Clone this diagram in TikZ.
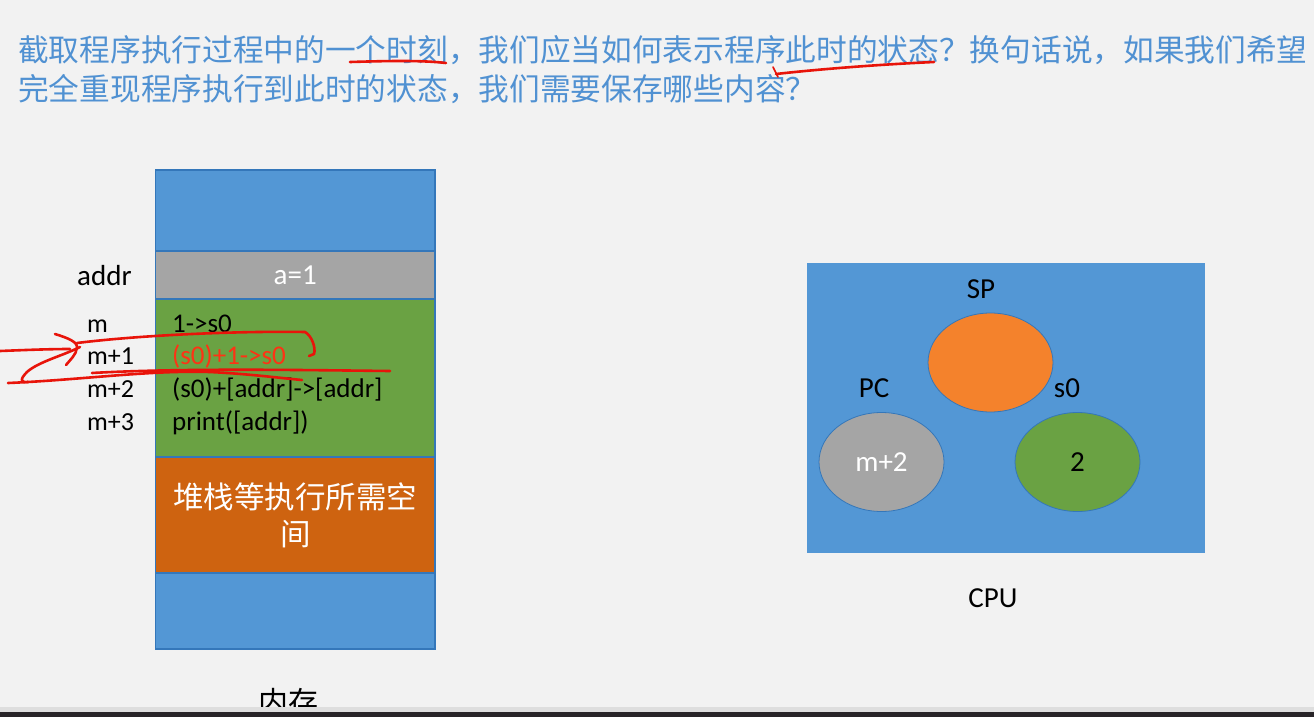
\documentclass[tikz,border=0pt]{standalone}
\usepackage{fontspec}
\setmainfont{Carlito}
\newfontfamily\cjk{Noto Sans CJK SC}
\usetikzlibrary{shapes.geometric}
\definecolor{bg}{RGB}{242,242,242}
\definecolor{memblue}{RGB}{83,151,213}
\definecolor{edgeblue}{RGB}{52,119,186}
\definecolor{gry}{RGB}{165,165,165}
\definecolor{grn}{RGB}{106,162,67}
\definecolor{dorange}{RGB}{206,99,16}
\definecolor{orng}{RGB}{244,130,44}
\definecolor{titleblue}{RGB}{80,145,210}
\definecolor{ink}{RGB}{232,20,10}
\definecolor{codered}{RGB}{255,50,20}
\definecolor{bandlight}{RGB}{222,222,222}
\definecolor{banddark}{RGB}{40,36,40}
\begin{document}
\begin{tikzpicture}[x=1pt,y=-1pt,
  seg/.style={draw=edgeblue, line width=1.2pt, minimum width=279.5pt, inner sep=0pt, outer sep=0pt},
  reg/.style={ellipse, draw=edgeblue, line width=0.8pt, minimum width=125pt, minimum height=99pt, inner sep=0pt},
  lbl/.style={inner sep=0pt, anchor=base, font=\fontsize{29}{34}\selectfont},
  addrlbl/.style={inner sep=0pt, anchor=base west, font=\fontsize{26}{30}\selectfont},
  codeln/.style={inner sep=0pt, anchor=base west, font=\fontsize{27}{31}\selectfont},
  title/.style={inner sep=0pt, anchor=base west, text=titleblue, font=\cjk\fontsize{30.7}{36}\selectfont},
  ann/.style={draw=ink, line width=2.6pt, line cap=round, line join=round}]

\fill[bg] (0,0) rectangle (1314,717);
\useasboundingbox (0,0) rectangle (1314,717);

% title
\node[title] (t1) at (18,62) {截取程序执行过程中的一个时刻，我们应当如何表示程序此时的状态？换句话说，如果我们希望};
\node[title] (t2) at (18,100) {完全重现程序执行到此时的状态，我们需要保存哪些内容？};

% memory
\node[seg, fill=memblue, minimum height=81pt] (mtop) at (295.25,210.5) {};
\node[seg, fill=gry, minimum height=48pt, text=white, font=\fontsize{29}{34}\selectfont] (mdata) at (295.25,275) {a=1};
\node[seg, fill=grn, minimum height=158pt] (mcode) at (295.25,378) {};
\node[seg, fill=dorange, minimum height=116pt, text=white, align=center, text width=262pt,
      font=\cjk\fontsize{30.5}{37}\selectfont] (mstack) at (295.25,515) {堆栈等执行所需空\\间};
\node[seg, fill=memblue, minimum height=76pt] (mbot) at (295.25,611) {};

\node[inner sep=0pt, anchor=base west, font=\fontsize{29}{34}\selectfont] (addr) at (77,285) {addr};
\node[addrlbl] (am0) at (87,332) {m};
\node[addrlbl] (am1) at (87,364) {m+1};
\node[addrlbl] (am2) at (87,397) {m+2};
\node[addrlbl] (am3) at (87,430) {m+3};
\node[codeln] (c0) at (172,332) {1->s0};
\node[codeln, text=codered] (c1) at (172,364) {(s0)+1->s0};
\node[codeln] (c2) at (172,397) {(s0)+[addr]->[addr]};
\node[codeln] (c3) at (172,430) {print([addr])};

\node[inner sep=0pt, anchor=base, font=\cjk\fontsize{30}{36}\selectfont] (memlbl) at (288,713) {内存};

% CPU
\node[fill=memblue, minimum width=398pt, minimum height=290pt, inner sep=0pt] (cpu) at (1006,408) {};
\node[reg, fill=orng] (sp) at (990.5,362.5) {};
\node[reg, fill=gry, text=white, font=\fontsize{29}{34}\selectfont] (pc) at (881.5,462) {m+2};
\node[reg, fill=grn, font=\fontsize{29}{34}\selectfont] (s0) at (1077.5,462) {2};
\node[lbl] (splbl) at (981,298) {SP};
\node[lbl] (pclbl) at (874,397) {PC};
\node[lbl] (s0lbl) at (1067,397) {s0};
\node[lbl] (cpulbl) at (993,607) {CPU};

% hand-drawn annotations
\draw[ann] (350,62) .. controls (385,61) and (420,60) .. (446,63);
\draw[ann] (776,74) .. controls (830,68) and (890,64) .. (934,62);
\draw[ann, line width=1.6pt] (773,67) -- (778,77);

\draw[ann] (0,351) .. controls (25,350) and (50,349) .. (70,349);
\draw[ann] (55,334) .. controls (68,338) and (78,342) .. (77,348) .. controls (76,355) and (70,360) .. (66,365);
\draw[ann] (77,343) .. controls (150,334) and (250,331) .. (305,332) .. controls (312,336) and (316,348) .. (314,354) -- (309,356);
\draw[ann] (80,347) .. controls (62,356) and (38,362) .. (27,372) .. controls (20,379) and (20,383) .. (28,382);
\draw[ann] (8,383) .. controls (80,380) and (150,370) .. (210,372) .. controls (250,374) and (280,378) .. (302,380);
\draw[ann] (92,373) .. controls (180,368) and (300,370) .. (390,371);

% screen bottom bands
\fill[bandlight] (0,707) rectangle (1314,712);
\fill[banddark] (0,712) rectangle (1314,717);
\end{tikzpicture}
\end{document}
